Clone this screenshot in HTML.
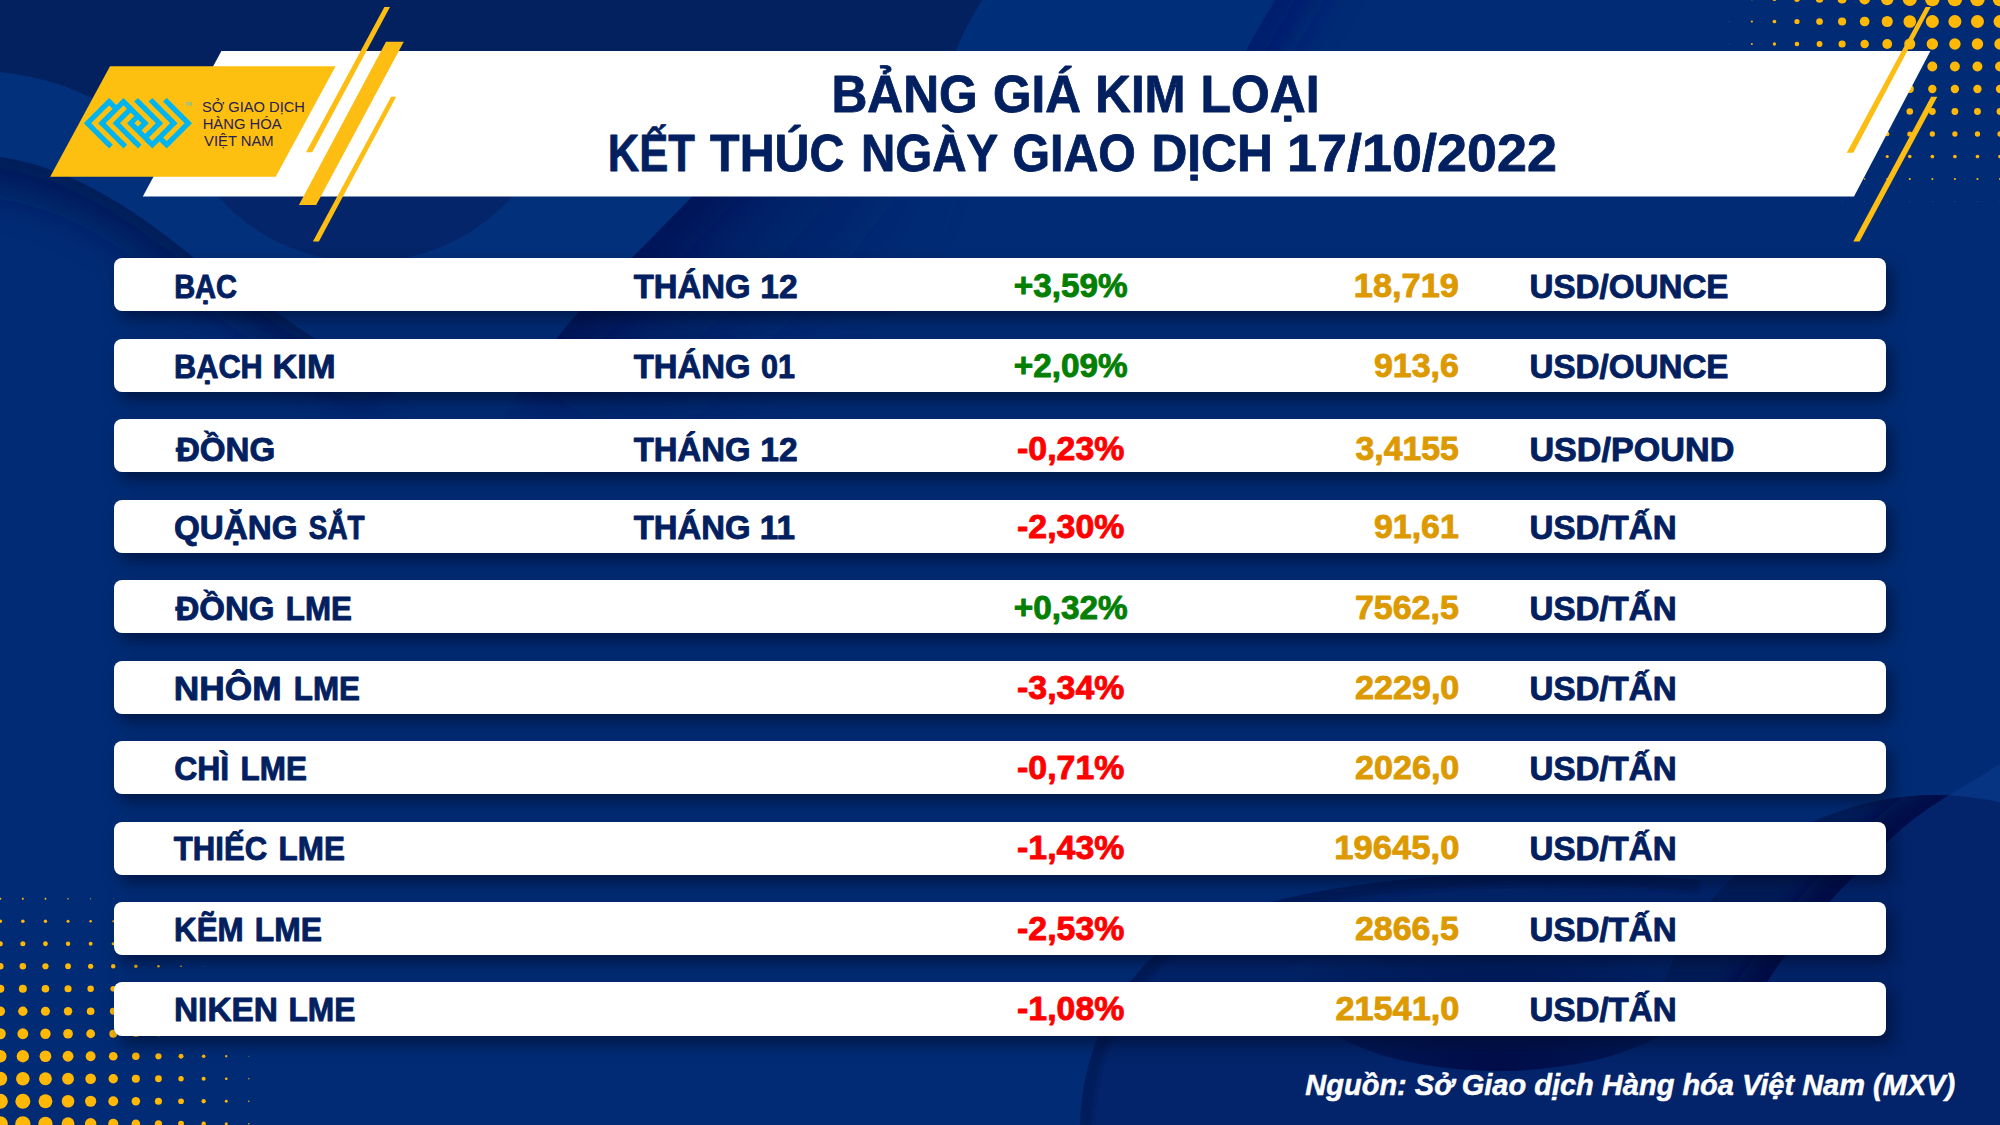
<!DOCTYPE html>
<html><head><meta charset="utf-8">
<style>
html,body{margin:0;padding:0;}
body{width:2000px;height:1125px;overflow:hidden;position:relative;background:#022b72;font-family:"Liberation Sans",sans-serif;}
svg{position:absolute;left:0;top:0;}
.row{position:absolute;left:114px;width:1772px;height:53.4px;background:#fff;border-radius:8px;box-shadow:6px 8px 16px rgba(0,10,40,0.6);}
</style></head><body>
<svg width="2000" height="1125" viewBox="0 0 2000 1125">
<defs>
<filter id="b2" filterUnits="userSpaceOnUse" x="-200" y="-200" width="2400" height="1525"><feGaussianBlur stdDeviation="2"/></filter><filter id="b16" filterUnits="userSpaceOnUse" x="-200" y="-200" width="2400" height="1525"><feGaussianBlur stdDeviation="22"/></filter><filter id="b40" filterUnits="userSpaceOnUse" x="-200" y="-200" width="2400" height="1525"><feGaussianBlur stdDeviation="45"/></filter><filter id="b8" filterUnits="userSpaceOnUse" x="-200" y="-200" width="2400" height="1525"><feGaussianBlur stdDeviation="10"/></filter>
</defs>
<rect width="2000" height="1125" fill="#012c75"/>
<!-- light band -->
<path d="M0 60 L 830 60 L 780 100 C 720 170 660 230 600 290 L 570 320 L 290 320 C 255 295 225 277 193 257 C 105 185 50 165 0 157 Z" fill="#03307b"/>
<!-- dark blob under banner -->
<circle cx="365" cy="64" r="198" fill="#04256a"/>
<!-- top dark -->
<path d="M0 0 H982 C 970 20 962 35 956 51 L 956 196 L 200 196 C150 120 80 80 0 72 Z" fill="#02215e"/>
<path d="M982 0 H1273 C 1262 20 1255 35 1246 51 L 956 51 C 962 35 970 20 982 0 Z" fill="#012e78"/>
<!-- W1 rim along B2 -->
<clipPath id="cpW1"><path d="M0 157 C 50 165 105 185 193 257 C 260 300 315 340 450 430 L 900 700 L 0 700 Z"/></clipPath>
<g clip-path="url(#cpW1)"><path d="M-40 150 C 50 160 105 180 193 252 C 260 295 315 335 380 375" fill="none" stroke="#001250" stroke-width="56" opacity="0.85" filter="url(#b16)"/></g>
<!-- W2 rim along C3 -->
<clipPath id="cpW2"><path d="M780 100 C 720 170 660 230 600 290 C 560 330 520 380 470 480 L 1200 480 L 1200 100 Z"/></clipPath>
<g clip-path="url(#cpW2)"><path d="M780 100 C 720 170 660 230 600 290 C 570 320 550 350 530 375" fill="none" stroke="#001050" stroke-width="70" opacity="0.75" filter="url(#b16)"/><path d="M800 80 C 740 150 680 210 620 270 C 590 300 570 330 550 360" fill="none" stroke="#00155a" stroke-width="260" opacity="0.45" filter="url(#b40)"/></g>
<!-- C4 rim top -->
<clipPath id="cpC4"><path d="M1320 -80 C 1290 -20 1262 20 1246 51 C 1230 80 1210 120 1190 160 L 1700 160 L 1700 -80 Z"/></clipPath>
<g clip-path="url(#cpC4)"><path d="M1320 -80 C 1290 -20 1262 20 1246 51 C 1230 80 1210 120 1190 160" fill="none" stroke="#00166a" stroke-width="60" opacity="0.8" filter="url(#b16)"/></g>
<!-- bottom right darker wave -->
<path d="M1080 1125 C 1082 1060 1105 1000 1160 950 C 1250 880 1500 860 1700 880 L 2000 880 L 2000 1125 Z" fill="#03246a"/>
<clipPath id="cpW3"><path d="M1080 1125 C 1082 1060 1105 1000 1160 950 C 1250 880 1500 860 1700 880 L 2000 880 L 2000 1125 Z"/></clipPath>
<g clip-path="url(#cpW3)"><path d="M1080 1125 C 1082 1060 1105 1000 1160 950 C 1250 880 1500 860 1700 880" fill="none" stroke="#011c5a" stroke-width="24" filter="url(#b2)"/></g>
<!-- dark crest under NIKEN row -->
<radialGradient id="rgN" cx="0.5" cy="1" r="0.75"><stop offset="0" stop-color="#000c48"/><stop offset="0.6" stop-color="#011a58"/><stop offset="1" stop-color="#03256a"/></radialGradient>
<ellipse cx="1498" cy="980" rx="205" ry="91" fill="url(#rgN)"/>
<!-- right wave W5 -->
<clipPath id="cpRM"><path d="M1500 600 L2000 600 L2000 1036 L1500 1036 Z"/></clipPath>
<g clip-path="url(#cpRM)">
<clipPath id="cpE6"><circle cx="1935" cy="1085" r="290"/></clipPath>
<clipPath id="cpW5"><path d="M2040 740 C 1950 795 1920 810 1887 843 C 1840 890 1800 930 1768 981 C 1740 1020 1720 1035 1700 1040 L 1700 1125 L 2040 1125 Z"/></clipPath>
<circle cx="1935" cy="1085" r="290" fill="#021d5a"/>
<g clip-path="url(#cpE6)"><path d="M2040 740 C 1950 795 1920 810 1887 843 C 1840 890 1800 930 1768 981 C 1740 1020 1720 1035 1700 1040" fill="none" stroke="#000e48" stroke-width="50" filter="url(#b8)"/></g>
<path d="M2040 740 C 1950 795 1920 810 1887 843 C 1840 890 1800 930 1768 981 C 1740 1020 1720 1035 1700 1040 L 1700 1125 L 2040 1125 Z" fill="#073482"/>
<g clip-path="url(#cpW5)"><circle cx="1935" cy="1085" r="290" fill="#03246a"/></g>
</g>
<g fill="#ffb806"><circle cx="0.25" cy="1123.75" r="7.60"/><circle cx="0.25" cy="1101.25" r="7.60"/><circle cx="0.25" cy="1078.75" r="7.00"/><circle cx="0.25" cy="1056.25" r="6.26"/><circle cx="0.25" cy="1033.75" r="5.52"/><circle cx="0.25" cy="1011.25" r="4.79"/><circle cx="0.25" cy="988.75" r="4.05"/><circle cx="0.25" cy="966.25" r="3.31"/><circle cx="0.25" cy="943.75" r="2.57"/><circle cx="0.25" cy="921.25" r="1.83"/><circle cx="0.25" cy="898.75" r="1.09"/><circle cx="22.85" cy="1123.75" r="7.60"/><circle cx="22.85" cy="1101.25" r="7.47"/><circle cx="22.85" cy="1078.75" r="6.85"/><circle cx="22.85" cy="1056.25" r="6.16"/><circle cx="22.85" cy="1033.75" r="5.44"/><circle cx="22.85" cy="1011.25" r="4.72"/><circle cx="22.85" cy="988.75" r="3.99"/><circle cx="22.85" cy="966.25" r="3.26"/><circle cx="22.85" cy="943.75" r="2.53"/><circle cx="22.85" cy="921.25" r="1.79"/><circle cx="22.85" cy="898.75" r="1.05"/><circle cx="45.45" cy="1123.75" r="7.11"/><circle cx="45.45" cy="1101.25" r="6.91"/><circle cx="45.45" cy="1078.75" r="6.45"/><circle cx="45.45" cy="1056.25" r="5.86"/><circle cx="45.45" cy="1033.75" r="5.21"/><circle cx="45.45" cy="1011.25" r="4.53"/><circle cx="45.45" cy="988.75" r="3.83"/><circle cx="45.45" cy="966.25" r="3.12"/><circle cx="45.45" cy="943.75" r="2.40"/><circle cx="45.45" cy="921.25" r="1.68"/><circle cx="45.45" cy="898.75" r="0.96"/><circle cx="68.05" cy="1123.75" r="6.41"/><circle cx="68.05" cy="1101.25" r="6.27"/><circle cx="68.05" cy="1078.75" r="5.92"/><circle cx="68.05" cy="1056.25" r="5.43"/><circle cx="68.05" cy="1033.75" r="4.86"/><circle cx="68.05" cy="1011.25" r="4.23"/><circle cx="68.05" cy="988.75" r="3.57"/><circle cx="68.05" cy="966.25" r="2.90"/><circle cx="68.05" cy="943.75" r="2.20"/><circle cx="68.05" cy="921.25" r="1.50"/><circle cx="68.05" cy="898.75" r="0.79"/><circle cx="90.65" cy="1123.75" r="5.71"/><circle cx="90.65" cy="1101.25" r="5.61"/><circle cx="90.65" cy="1078.75" r="5.33"/><circle cx="90.65" cy="1056.25" r="4.92"/><circle cx="90.65" cy="1033.75" r="4.41"/><circle cx="90.65" cy="1011.25" r="3.85"/><circle cx="90.65" cy="988.75" r="3.24"/><circle cx="90.65" cy="966.25" r="2.60"/><circle cx="90.65" cy="943.75" r="1.94"/><circle cx="90.65" cy="921.25" r="1.26"/><circle cx="90.65" cy="898.75" r="0.58"/><circle cx="113.25" cy="1123.75" r="5.01"/><circle cx="113.25" cy="1101.25" r="4.93"/><circle cx="113.25" cy="1078.75" r="4.70"/><circle cx="113.25" cy="1056.25" r="4.35"/><circle cx="113.25" cy="1033.75" r="3.91"/><circle cx="113.25" cy="1011.25" r="3.39"/><circle cx="113.25" cy="988.75" r="2.83"/><circle cx="113.25" cy="966.25" r="2.24"/><circle cx="113.25" cy="943.75" r="1.61"/><circle cx="113.25" cy="921.25" r="0.96"/><circle cx="113.25" cy="898.75" r="0.30"/><circle cx="135.85" cy="1123.75" r="4.31"/><circle cx="135.85" cy="1101.25" r="4.24"/><circle cx="135.85" cy="1078.75" r="4.05"/><circle cx="135.85" cy="1056.25" r="3.74"/><circle cx="135.85" cy="1033.75" r="3.35"/><circle cx="135.85" cy="1011.25" r="2.89"/><circle cx="135.85" cy="988.75" r="2.38"/><circle cx="135.85" cy="966.25" r="1.82"/><circle cx="135.85" cy="943.75" r="1.23"/><circle cx="135.85" cy="921.25" r="0.61"/><circle cx="158.45" cy="1123.75" r="3.61"/><circle cx="158.45" cy="1101.25" r="3.55"/><circle cx="158.45" cy="1078.75" r="3.38"/><circle cx="158.45" cy="1056.25" r="3.12"/><circle cx="158.45" cy="1033.75" r="2.77"/><circle cx="158.45" cy="1011.25" r="2.35"/><circle cx="158.45" cy="988.75" r="1.88"/><circle cx="158.45" cy="966.25" r="1.36"/><circle cx="158.45" cy="943.75" r="0.80"/><circle cx="158.45" cy="921.25" r="0.22"/><circle cx="181.05" cy="1123.75" r="2.91"/><circle cx="181.05" cy="1101.25" r="2.86"/><circle cx="181.05" cy="1078.75" r="2.71"/><circle cx="181.05" cy="1056.25" r="2.47"/><circle cx="181.05" cy="1033.75" r="2.16"/><circle cx="181.05" cy="1011.25" r="1.78"/><circle cx="181.05" cy="988.75" r="1.34"/><circle cx="181.05" cy="966.25" r="0.86"/><circle cx="181.05" cy="943.75" r="0.34"/><circle cx="203.65" cy="1123.75" r="2.21"/><circle cx="203.65" cy="1101.25" r="2.16"/><circle cx="203.65" cy="1078.75" r="2.03"/><circle cx="203.65" cy="1056.25" r="1.82"/><circle cx="203.65" cy="1033.75" r="1.53"/><circle cx="203.65" cy="1011.25" r="1.19"/><circle cx="203.65" cy="988.75" r="0.78"/><circle cx="203.65" cy="966.25" r="0.33"/><circle cx="226.25" cy="1123.75" r="1.51"/><circle cx="226.25" cy="1101.25" r="1.47"/><circle cx="226.25" cy="1078.75" r="1.35"/><circle cx="226.25" cy="1056.25" r="1.15"/><circle cx="226.25" cy="1033.75" r="0.90"/><circle cx="226.25" cy="1011.25" r="0.58"/><circle cx="226.25" cy="988.75" r="0.20"/><circle cx="248.85" cy="1123.75" r="0.81"/><circle cx="248.85" cy="1101.25" r="0.77"/><circle cx="248.85" cy="1078.75" r="0.66"/><circle cx="248.85" cy="1056.25" r="0.48"/><circle cx="248.85" cy="1033.75" r="0.25"/><circle cx="1729.30" cy="-1.00" r="0.42"/><circle cx="1729.30" cy="21.50" r="0.37"/><circle cx="1729.30" cy="44.00" r="0.33"/><circle cx="1729.30" cy="66.50" r="0.28"/><circle cx="1729.30" cy="89.00" r="0.24"/><circle cx="1729.30" cy="111.50" r="0.19"/><circle cx="1751.86" cy="-1.00" r="1.25"/><circle cx="1751.86" cy="21.50" r="1.11"/><circle cx="1751.86" cy="44.00" r="0.98"/><circle cx="1751.86" cy="66.50" r="0.85"/><circle cx="1751.86" cy="89.00" r="0.71"/><circle cx="1751.86" cy="111.50" r="0.58"/><circle cx="1751.86" cy="134.00" r="0.45"/><circle cx="1751.86" cy="156.50" r="0.32"/><circle cx="1751.86" cy="179.00" r="0.18"/><circle cx="1774.42" cy="-1.00" r="2.08"/><circle cx="1774.42" cy="21.50" r="1.85"/><circle cx="1774.42" cy="44.00" r="1.63"/><circle cx="1774.42" cy="66.50" r="1.41"/><circle cx="1774.42" cy="89.00" r="1.19"/><circle cx="1774.42" cy="111.50" r="0.97"/><circle cx="1774.42" cy="134.00" r="0.75"/><circle cx="1774.42" cy="156.50" r="0.53"/><circle cx="1774.42" cy="179.00" r="0.31"/><circle cx="1796.98" cy="-1.00" r="2.91"/><circle cx="1796.98" cy="21.50" r="2.60"/><circle cx="1796.98" cy="44.00" r="2.29"/><circle cx="1796.98" cy="66.50" r="1.98"/><circle cx="1796.98" cy="89.00" r="1.67"/><circle cx="1796.98" cy="111.50" r="1.36"/><circle cx="1796.98" cy="134.00" r="1.05"/><circle cx="1796.98" cy="156.50" r="0.74"/><circle cx="1796.98" cy="179.00" r="0.43"/><circle cx="1819.54" cy="-1.00" r="3.74"/><circle cx="1819.54" cy="21.50" r="3.34"/><circle cx="1819.54" cy="44.00" r="2.94"/><circle cx="1819.54" cy="66.50" r="2.54"/><circle cx="1819.54" cy="89.00" r="2.14"/><circle cx="1819.54" cy="111.50" r="1.75"/><circle cx="1819.54" cy="134.00" r="1.35"/><circle cx="1819.54" cy="156.50" r="0.95"/><circle cx="1819.54" cy="179.00" r="0.55"/><circle cx="1842.10" cy="-1.00" r="4.58"/><circle cx="1842.10" cy="21.50" r="4.08"/><circle cx="1842.10" cy="44.00" r="3.59"/><circle cx="1842.10" cy="66.50" r="3.11"/><circle cx="1842.10" cy="89.00" r="2.62"/><circle cx="1842.10" cy="111.50" r="2.13"/><circle cx="1842.10" cy="134.00" r="1.65"/><circle cx="1842.10" cy="156.50" r="1.16"/><circle cx="1842.10" cy="179.00" r="0.67"/><circle cx="1842.10" cy="201.50" r="0.19"/><circle cx="1864.66" cy="-1.00" r="5.41"/><circle cx="1864.66" cy="21.50" r="4.82"/><circle cx="1864.66" cy="44.00" r="4.25"/><circle cx="1864.66" cy="66.50" r="3.67"/><circle cx="1864.66" cy="89.00" r="3.10"/><circle cx="1864.66" cy="111.50" r="2.52"/><circle cx="1864.66" cy="134.00" r="1.95"/><circle cx="1864.66" cy="156.50" r="1.37"/><circle cx="1864.66" cy="179.00" r="0.80"/><circle cx="1864.66" cy="201.50" r="0.22"/><circle cx="1887.22" cy="-1.00" r="6.24"/><circle cx="1887.22" cy="21.50" r="5.56"/><circle cx="1887.22" cy="44.00" r="4.90"/><circle cx="1887.22" cy="66.50" r="4.24"/><circle cx="1887.22" cy="89.00" r="3.57"/><circle cx="1887.22" cy="111.50" r="2.91"/><circle cx="1887.22" cy="134.00" r="2.25"/><circle cx="1887.22" cy="156.50" r="1.58"/><circle cx="1887.22" cy="179.00" r="0.92"/><circle cx="1887.22" cy="201.50" r="0.25"/><circle cx="1909.78" cy="-1.00" r="7.07"/><circle cx="1909.78" cy="21.50" r="6.30"/><circle cx="1909.78" cy="44.00" r="5.55"/><circle cx="1909.78" cy="66.50" r="4.80"/><circle cx="1909.78" cy="89.00" r="4.05"/><circle cx="1909.78" cy="111.50" r="3.30"/><circle cx="1909.78" cy="134.00" r="2.54"/><circle cx="1909.78" cy="156.50" r="1.79"/><circle cx="1909.78" cy="179.00" r="1.04"/><circle cx="1909.78" cy="201.50" r="0.29"/><circle cx="1932.34" cy="-1.00" r="7.30"/><circle cx="1932.34" cy="21.50" r="6.51"/><circle cx="1932.34" cy="44.00" r="5.73"/><circle cx="1932.34" cy="66.50" r="4.96"/><circle cx="1932.34" cy="89.00" r="4.18"/><circle cx="1932.34" cy="111.50" r="3.40"/><circle cx="1932.34" cy="134.00" r="2.63"/><circle cx="1932.34" cy="156.50" r="1.85"/><circle cx="1932.34" cy="179.00" r="1.07"/><circle cx="1932.34" cy="201.50" r="0.30"/><circle cx="1954.90" cy="-1.00" r="7.30"/><circle cx="1954.90" cy="21.50" r="6.51"/><circle cx="1954.90" cy="44.00" r="5.73"/><circle cx="1954.90" cy="66.50" r="4.96"/><circle cx="1954.90" cy="89.00" r="4.18"/><circle cx="1954.90" cy="111.50" r="3.40"/><circle cx="1954.90" cy="134.00" r="2.63"/><circle cx="1954.90" cy="156.50" r="1.85"/><circle cx="1954.90" cy="179.00" r="1.07"/><circle cx="1954.90" cy="201.50" r="0.30"/><circle cx="1977.46" cy="-1.00" r="7.30"/><circle cx="1977.46" cy="21.50" r="6.51"/><circle cx="1977.46" cy="44.00" r="5.73"/><circle cx="1977.46" cy="66.50" r="4.96"/><circle cx="1977.46" cy="89.00" r="4.18"/><circle cx="1977.46" cy="111.50" r="3.40"/><circle cx="1977.46" cy="134.00" r="2.63"/><circle cx="1977.46" cy="156.50" r="1.85"/><circle cx="1977.46" cy="179.00" r="1.07"/><circle cx="1977.46" cy="201.50" r="0.30"/><circle cx="2000.02" cy="-1.00" r="7.30"/><circle cx="2000.02" cy="21.50" r="6.51"/><circle cx="2000.02" cy="44.00" r="5.73"/><circle cx="2000.02" cy="66.50" r="4.96"/><circle cx="2000.02" cy="89.00" r="4.18"/><circle cx="2000.02" cy="111.50" r="3.40"/><circle cx="2000.02" cy="134.00" r="2.63"/><circle cx="2000.02" cy="156.50" r="1.85"/><circle cx="2000.02" cy="179.00" r="1.07"/><circle cx="2000.02" cy="201.50" r="0.30"/></g>
</svg>
<div class="row" style="top:257.90px"></div><div class="row" style="top:338.70px"></div><div class="row" style="top:418.70px"></div><div class="row" style="top:499.60px"></div><div class="row" style="top:579.90px"></div><div class="row" style="top:660.70px"></div><div class="row" style="top:740.70px"></div><div class="row" style="top:821.70px"></div><div class="row" style="top:901.70px"></div><div class="row" style="top:982.30px"></div>
<svg width="2000" height="1125" viewBox="0 0 2000 1125" font-family="Liberation Sans">
<!-- white banner -->
<polygon points="221.4,51.1 1930.4,51.1 1854,196.4 142.8,196.4" fill="#ffffff"/>
<!-- yellow logo parallelogram -->
<polygon points="110,66.3 335.6,66.3 275.7,176.8 50.2,176.8" fill="#fdc010"/>
<!-- stripes left -->
<g fill="#fdbd12">
<polygon points="384.4,7.1 390,7.1 312.2,152.2 306,152.2"/>
<polygon points="386,41.8 403.8,41.8 316.2,204.9 298.9,204.9"/>
<polygon points="391.1,96.7 396.2,96.7 318.9,241.6 312.9,241.6"/>
<polygon points="1925.6,7.1 1930.7,7.1 1853.3,152.7 1846.7,152.7"/>
<polygon points="1931.1,96.7 1937.3,96.7 1859.6,241.6 1853.3,241.6"/>
</g>
<path fill="#00b5ef" d="M83.82 123.20L87.50 119.52L91.18 123.20L87.50 126.88ZM87.42 119.60L91.10 115.92L94.78 119.60L91.10 123.28ZM91.02 116.00L94.70 112.32L98.38 116.00L94.70 119.68ZM94.62 112.40L98.30 108.72L101.98 112.40L98.30 116.08ZM98.22 108.80L101.90 105.12L105.58 108.80L101.90 112.48ZM101.82 105.20L105.50 101.52L109.18 105.20L105.50 108.88ZM105.42 101.60L109.10 97.92L112.78 101.60L109.10 105.28ZM87.42 126.80L91.10 123.12L94.78 126.80L91.10 130.48ZM109.02 105.20L112.70 101.52L116.38 105.20L112.70 108.88ZM91.02 130.40L94.70 126.72L98.38 130.40L94.70 134.08ZM98.22 123.20L101.90 119.52L105.58 123.20L101.90 126.88ZM101.82 119.60L105.50 115.92L109.18 119.60L105.50 123.28ZM105.42 116.00L109.10 112.32L112.78 116.00L109.10 119.68ZM109.02 112.40L112.70 108.72L116.38 112.40L112.70 116.08ZM112.62 108.80L116.30 105.12L119.98 108.80L116.30 112.48ZM116.22 105.20L119.90 101.52L123.58 105.20L119.90 108.88ZM119.82 101.60L123.50 97.92L127.18 101.60L123.50 105.28ZM94.62 134.00L98.30 130.32L101.98 134.00L98.30 137.68ZM101.82 126.80L105.50 123.12L109.18 126.80L105.50 130.48ZM123.42 105.20L127.10 101.52L130.78 105.20L127.10 108.88ZM98.22 137.60L101.90 133.92L105.58 137.60L101.90 141.28ZM105.42 130.40L109.10 126.72L112.78 130.40L109.10 134.08ZM112.62 123.20L116.30 119.52L119.98 123.20L116.30 126.88ZM116.22 119.60L119.90 115.92L123.58 119.60L119.90 123.28ZM119.82 116.00L123.50 112.32L127.18 116.00L123.50 119.68ZM123.42 112.40L127.10 108.72L130.78 112.40L127.10 116.08ZM127.02 108.80L130.70 105.12L134.38 108.80L130.70 112.48ZM134.22 101.60L137.90 97.92L141.58 101.60L137.90 105.28ZM101.82 141.20L105.50 137.52L109.18 141.20L105.50 144.88ZM109.02 134.00L112.70 130.32L116.38 134.00L112.70 137.68ZM116.22 126.80L119.90 123.12L123.58 126.80L119.90 130.48ZM130.62 112.40L134.30 108.72L137.98 112.40L134.30 116.08ZM137.82 105.20L141.50 101.52L145.18 105.20L141.50 108.88ZM105.42 144.80L109.10 141.12L112.78 144.80L109.10 148.48ZM112.62 137.60L116.30 133.92L119.98 137.60L116.30 141.28ZM119.82 130.40L123.50 126.72L127.18 130.40L123.50 134.08ZM127.02 123.20L130.70 119.52L134.38 123.20L130.70 126.88ZM130.62 119.60L134.30 115.92L137.98 119.60L134.30 123.28ZM134.22 116.00L137.90 112.32L141.58 116.00L137.90 119.68ZM141.42 108.80L145.10 105.12L148.78 108.80L145.10 112.48ZM148.62 101.60L152.30 97.92L155.98 101.60L152.30 105.28ZM116.22 141.20L119.90 137.52L123.58 141.20L119.90 144.88ZM123.42 134.00L127.10 130.32L130.78 134.00L127.10 137.68ZM130.62 126.80L134.30 123.12L137.98 126.80L134.30 130.48ZM137.82 119.60L141.50 115.92L145.18 119.60L141.50 123.28ZM145.02 112.40L148.70 108.72L152.38 112.40L148.70 116.08ZM152.22 105.20L155.90 101.52L159.58 105.20L155.90 108.88ZM119.82 144.80L123.50 141.12L127.18 144.80L123.50 148.48ZM127.02 137.60L130.70 133.92L134.38 137.60L130.70 141.28ZM134.22 130.40L137.90 126.72L141.58 130.40L137.90 134.08ZM137.82 126.80L141.50 123.12L145.18 126.80L141.50 130.48ZM141.42 123.20L145.10 119.52L148.78 123.20L145.10 126.88ZM148.62 116.00L152.30 112.32L155.98 116.00L152.30 119.68ZM155.82 108.80L159.50 105.12L163.18 108.80L159.50 112.48ZM163.02 101.60L166.70 97.92L170.38 101.60L166.70 105.28ZM130.62 141.20L134.30 137.52L137.98 141.20L134.30 144.88ZM137.82 134.00L141.50 130.32L145.18 134.00L141.50 137.68ZM152.22 119.60L155.90 115.92L159.58 119.60L155.90 123.28ZM159.42 112.40L163.10 108.72L166.78 112.40L163.10 116.08ZM166.62 105.20L170.30 101.52L173.98 105.20L170.30 108.88ZM134.22 144.80L137.90 141.12L141.58 144.80L137.90 148.48ZM141.42 137.60L145.10 133.92L148.78 137.60L145.10 141.28ZM145.02 134.00L148.70 130.32L152.38 134.00L148.70 137.68ZM148.62 130.40L152.30 126.72L155.98 130.40L152.30 134.08ZM152.22 126.80L155.90 123.12L159.58 126.80L155.90 130.48ZM155.82 123.20L159.50 119.52L163.18 123.20L159.50 126.88ZM163.02 116.00L166.70 112.32L170.38 116.00L166.70 119.68ZM170.22 108.80L173.90 105.12L177.58 108.80L173.90 112.48ZM145.02 141.20L148.70 137.52L152.38 141.20L148.70 144.88ZM166.62 119.60L170.30 115.92L173.98 119.60L170.30 123.28ZM173.82 112.40L177.50 108.72L181.18 112.40L177.50 116.08ZM148.62 144.80L152.30 141.12L155.98 144.80L152.30 148.48ZM152.22 141.20L155.90 137.52L159.58 141.20L155.90 144.88ZM155.82 137.60L159.50 133.92L163.18 137.60L159.50 141.28ZM159.42 134.00L163.10 130.32L166.78 134.00L163.10 137.68ZM163.02 130.40L166.70 126.72L170.38 130.40L166.70 134.08ZM166.62 126.80L170.30 123.12L173.98 126.80L170.30 130.48ZM170.22 123.20L173.90 119.52L177.58 123.20L173.90 126.88ZM177.42 116.00L181.10 112.32L184.78 116.00L181.10 119.68ZM159.42 141.20L163.10 137.52L166.78 141.20L163.10 144.88ZM181.02 119.60L184.70 115.92L188.38 119.60L184.70 123.28ZM163.02 144.80L166.70 141.12L170.38 144.80L166.70 148.48ZM166.62 141.20L170.30 137.52L173.98 141.20L170.30 144.88ZM170.22 137.60L173.90 133.92L177.58 137.60L173.90 141.28ZM173.82 134.00L177.50 130.32L181.18 134.00L177.50 137.68ZM177.42 130.40L181.10 126.72L184.78 130.40L181.10 134.08ZM181.02 126.80L184.70 123.12L188.38 126.80L184.70 130.48ZM184.62 123.20L188.30 119.52L191.98 123.20L188.30 126.88Z"/>
<text x="185" y="105.5" font-size="4.5" fill="#6cc3b8" font-weight="bold">TM</text>
<text transform="translate(831.50 112.40) scale(0.9724 1)" font-size="51.08" font-weight="bold" stroke="#02205f" stroke-width="0.80" stroke-linejoin="round" fill="#02205f">BẢNG</text><text transform="translate(993.10 112.40) scale(0.9684 1)" font-size="51.08" font-weight="bold" stroke="#02205f" stroke-width="0.80" stroke-linejoin="round" fill="#02205f">GIÁ</text><text transform="translate(1095.32 112.40) scale(0.9648 1)" font-size="51.08" font-weight="bold" stroke="#02205f" stroke-width="0.80" stroke-linejoin="round" fill="#02205f">KIM</text><text transform="translate(1200.59 112.40) scale(0.9749 1)" font-size="51.08" font-weight="bold" stroke="#02205f" stroke-width="0.80" stroke-linejoin="round" fill="#02205f">LOẠI</text><text transform="translate(607.68 170.60) scale(0.8487 1)" font-size="51.37" font-weight="bold" stroke="#02205f" stroke-width="0.80" stroke-linejoin="round" fill="#02205f">KẾT</text><text transform="translate(710.10 170.60) scale(0.9422 1)" font-size="51.37" font-weight="bold" stroke="#02205f" stroke-width="0.80" stroke-linejoin="round" fill="#02205f">THÚC</text><text transform="translate(860.93 170.60) scale(0.9243 1)" font-size="51.37" font-weight="bold" stroke="#02205f" stroke-width="0.80" stroke-linejoin="round" fill="#02205f">NGÀY</text><text transform="translate(1012.49 170.60) scale(0.9396 1)" font-size="51.37" font-weight="bold" stroke="#02205f" stroke-width="0.80" stroke-linejoin="round" fill="#02205f">GIAO</text><text transform="translate(1151.39 170.60) scale(0.9675 1)" font-size="51.37" font-weight="bold" stroke="#02205f" stroke-width="0.80" stroke-linejoin="round" fill="#02205f">DỊCH</text><text transform="translate(1287.03 170.60) scale(1.0499 1)" font-size="51.37" font-weight="bold" stroke="#02205f" stroke-width="0.80" stroke-linejoin="round" fill="#02205f">17/10/2022</text><text transform="translate(174.13 298.25) scale(0.8745 1)" font-size="33.24" font-weight="bold" stroke="#02205f" stroke-width="0.90" stroke-linejoin="round" fill="#02205f">BẠC</text><text transform="translate(633.75 298.25) scale(0.9879 1)" font-size="33.24" font-weight="bold" stroke="#02205f" stroke-width="0.90" stroke-linejoin="round" fill="#02205f">THÁNG</text><text transform="translate(760.35 298.25) scale(1.0098 1)" font-size="33.24" font-weight="bold" stroke="#02205f" stroke-width="0.90" stroke-linejoin="round" fill="#02205f">12</text><text transform="translate(1013.66 297.35) scale(0.9912 1)" font-size="33.67" font-weight="bold" stroke="#038003" stroke-width="0.90" stroke-linejoin="round" fill="#038003">+3,59%</text><text transform="translate(1353.80 297.35) scale(1.0206 1)" font-size="33.67" font-weight="bold" stroke="#dd9a00" stroke-width="0.90" stroke-linejoin="round" fill="#dd9a00">18,719</text><text transform="translate(1529.50 298.25) scale(0.9979 1)" font-size="33.24" font-weight="bold" stroke="#02205f" stroke-width="0.90" stroke-linejoin="round" fill="#02205f">USD/OUNCE</text><text transform="translate(174.03 378.25) scale(0.9249 1)" font-size="33.24" font-weight="bold" stroke="#02205f" stroke-width="0.90" stroke-linejoin="round" fill="#02205f">BẠCH</text><text transform="translate(272.55 378.25) scale(1.0345 1)" font-size="33.24" font-weight="bold" stroke="#02205f" stroke-width="0.90" stroke-linejoin="round" fill="#02205f">KIM</text><text transform="translate(633.75 378.25) scale(0.9879 1)" font-size="33.24" font-weight="bold" stroke="#02205f" stroke-width="0.90" stroke-linejoin="round" fill="#02205f">THÁNG</text><text transform="translate(760.99 378.25) scale(0.9201 1)" font-size="33.24" font-weight="bold" stroke="#02205f" stroke-width="0.90" stroke-linejoin="round" fill="#02205f">01</text><text transform="translate(1013.66 377.35) scale(0.9912 1)" font-size="33.67" font-weight="bold" stroke="#038003" stroke-width="0.90" stroke-linejoin="round" fill="#038003">+2,09%</text><text transform="translate(1373.89 377.35) scale(1.0089 1)" font-size="33.67" font-weight="bold" stroke="#dd9a00" stroke-width="0.90" stroke-linejoin="round" fill="#dd9a00">913,6</text><text transform="translate(1529.50 378.25) scale(0.9979 1)" font-size="33.24" font-weight="bold" stroke="#02205f" stroke-width="0.90" stroke-linejoin="round" fill="#02205f">USD/OUNCE</text><text transform="translate(175.95 461.25) scale(0.9964 1)" font-size="33.24" font-weight="bold" stroke="#02205f" stroke-width="0.90" stroke-linejoin="round" fill="#02205f">ĐỒNG</text><text transform="translate(633.75 461.25) scale(0.9879 1)" font-size="33.24" font-weight="bold" stroke="#02205f" stroke-width="0.90" stroke-linejoin="round" fill="#02205f">THÁNG</text><text transform="translate(760.35 461.25) scale(1.0098 1)" font-size="33.24" font-weight="bold" stroke="#02205f" stroke-width="0.90" stroke-linejoin="round" fill="#02205f">12</text><text transform="translate(1017.09 460.35) scale(1.0052 1)" font-size="33.67" font-weight="bold" stroke="#fe0000" stroke-width="0.90" stroke-linejoin="round" fill="#fe0000">-0,23%</text><text transform="translate(1355.42 460.35) scale(1.0048 1)" font-size="33.67" font-weight="bold" stroke="#dd9a00" stroke-width="0.90" stroke-linejoin="round" fill="#dd9a00">3,4155</text><text transform="translate(1529.45 461.25) scale(1.0273 1)" font-size="33.24" font-weight="bold" stroke="#02205f" stroke-width="0.90" stroke-linejoin="round" fill="#02205f">USD/POUND</text><text transform="translate(174.01 538.55) scale(0.9999 1)" font-size="33.24" font-weight="bold" stroke="#02205f" stroke-width="0.90" stroke-linejoin="round" fill="#02205f">QUẶNG</text><text transform="translate(308.81 538.55) scale(0.8391 1)" font-size="33.24" font-weight="bold" stroke="#02205f" stroke-width="0.90" stroke-linejoin="round" fill="#02205f">SẮT</text><text transform="translate(633.75 538.55) scale(0.9879 1)" font-size="33.24" font-weight="bold" stroke="#02205f" stroke-width="0.90" stroke-linejoin="round" fill="#02205f">THÁNG</text><text transform="translate(759.87 538.55) scale(1.0021 1)" font-size="33.24" font-weight="bold" stroke="#02205f" stroke-width="0.90" stroke-linejoin="round" fill="#02205f">11</text><text transform="translate(1017.09 537.65) scale(1.0052 1)" font-size="33.67" font-weight="bold" stroke="#fe0000" stroke-width="0.90" stroke-linejoin="round" fill="#fe0000">-2,30%</text><text transform="translate(1373.89 537.65) scale(1.0089 1)" font-size="33.67" font-weight="bold" stroke="#dd9a00" stroke-width="0.90" stroke-linejoin="round" fill="#dd9a00">91,61</text><text transform="translate(1529.50 538.55) scale(0.9967 1)" font-size="33.24" font-weight="bold" stroke="#02205f" stroke-width="0.90" stroke-linejoin="round" fill="#02205f">USD/TẤN</text><text transform="translate(175.45 619.65) scale(0.9934 1)" font-size="33.24" font-weight="bold" stroke="#02205f" stroke-width="0.90" stroke-linejoin="round" fill="#02205f">ĐỒNG</text><text transform="translate(285.74 619.65) scale(0.9426 1)" font-size="33.24" font-weight="bold" stroke="#02205f" stroke-width="0.90" stroke-linejoin="round" fill="#02205f">LME</text><text transform="translate(1013.66 618.75) scale(0.9912 1)" font-size="33.67" font-weight="bold" stroke="#038003" stroke-width="0.90" stroke-linejoin="round" fill="#038003">+0,32%</text><text transform="translate(1354.89 618.75) scale(1.0100 1)" font-size="33.67" font-weight="bold" stroke="#dd9a00" stroke-width="0.90" stroke-linejoin="round" fill="#dd9a00">7562,5</text><text transform="translate(1529.50 619.65) scale(0.9967 1)" font-size="33.24" font-weight="bold" stroke="#02205f" stroke-width="0.90" stroke-linejoin="round" fill="#02205f">USD/TẤN</text><text transform="translate(173.85 699.65) scale(1.0614 1)" font-size="33.24" font-weight="bold" stroke="#02205f" stroke-width="0.90" stroke-linejoin="round" fill="#02205f">NHÔM</text><text transform="translate(293.74 699.65) scale(0.9441 1)" font-size="33.24" font-weight="bold" stroke="#02205f" stroke-width="0.90" stroke-linejoin="round" fill="#02205f">LME</text><text transform="translate(1017.09 698.75) scale(1.0052 1)" font-size="33.67" font-weight="bold" stroke="#fe0000" stroke-width="0.90" stroke-linejoin="round" fill="#fe0000">-3,34%</text><text transform="translate(1354.88 698.75) scale(1.0153 1)" font-size="33.67" font-weight="bold" stroke="#dd9a00" stroke-width="0.90" stroke-linejoin="round" fill="#dd9a00">2229,0</text><text transform="translate(1529.50 699.65) scale(0.9967 1)" font-size="33.24" font-weight="bold" stroke="#02205f" stroke-width="0.90" stroke-linejoin="round" fill="#02205f">USD/TẤN</text><text transform="translate(174.15 779.65) scale(0.9606 1)" font-size="33.24" font-weight="bold" stroke="#02205f" stroke-width="0.90" stroke-linejoin="round" fill="#02205f">CHÌ</text><text transform="translate(240.58 779.65) scale(0.9464 1)" font-size="33.24" font-weight="bold" stroke="#02205f" stroke-width="0.90" stroke-linejoin="round" fill="#02205f">LME</text><text transform="translate(1017.09 778.75) scale(1.0052 1)" font-size="33.67" font-weight="bold" stroke="#fe0000" stroke-width="0.90" stroke-linejoin="round" fill="#fe0000">-0,71%</text><text transform="translate(1354.88 778.75) scale(1.0153 1)" font-size="33.67" font-weight="bold" stroke="#dd9a00" stroke-width="0.90" stroke-linejoin="round" fill="#dd9a00">2026,0</text><text transform="translate(1529.50 779.65) scale(0.9967 1)" font-size="33.24" font-weight="bold" stroke="#02205f" stroke-width="0.90" stroke-linejoin="round" fill="#02205f">USD/TẤN</text><text transform="translate(173.85 859.65) scale(0.9356 1)" font-size="33.24" font-weight="bold" stroke="#02205f" stroke-width="0.90" stroke-linejoin="round" fill="#02205f">THIẾC</text><text transform="translate(278.59 859.65) scale(0.9449 1)" font-size="33.24" font-weight="bold" stroke="#02205f" stroke-width="0.90" stroke-linejoin="round" fill="#02205f">LME</text><text transform="translate(1017.09 858.75) scale(1.0052 1)" font-size="33.67" font-weight="bold" stroke="#fe0000" stroke-width="0.90" stroke-linejoin="round" fill="#fe0000">-1,43%</text><text transform="translate(1334.29 858.75) scale(1.0284 1)" font-size="33.67" font-weight="bold" stroke="#dd9a00" stroke-width="0.90" stroke-linejoin="round" fill="#dd9a00">19645,0</text><text transform="translate(1529.50 859.65) scale(0.9967 1)" font-size="33.24" font-weight="bold" stroke="#02205f" stroke-width="0.90" stroke-linejoin="round" fill="#02205f">USD/TẤN</text><text transform="translate(173.99 940.55) scale(0.9435 1)" font-size="33.24" font-weight="bold" stroke="#02205f" stroke-width="0.90" stroke-linejoin="round" fill="#02205f">KẼM</text><text transform="translate(254.71 940.55) scale(0.9575 1)" font-size="33.24" font-weight="bold" stroke="#02205f" stroke-width="0.90" stroke-linejoin="round" fill="#02205f">LME</text><text transform="translate(1017.09 939.65) scale(1.0052 1)" font-size="33.67" font-weight="bold" stroke="#fe0000" stroke-width="0.90" stroke-linejoin="round" fill="#fe0000">-2,53%</text><text transform="translate(1354.89 939.65) scale(1.0100 1)" font-size="33.67" font-weight="bold" stroke="#dd9a00" stroke-width="0.90" stroke-linejoin="round" fill="#dd9a00">2866,5</text><text transform="translate(1529.50 940.55) scale(0.9967 1)" font-size="33.24" font-weight="bold" stroke="#02205f" stroke-width="0.90" stroke-linejoin="round" fill="#02205f">USD/TẤN</text><text transform="translate(173.96 1021.25) scale(1.0061 1)" font-size="33.24" font-weight="bold" stroke="#02205f" stroke-width="0.90" stroke-linejoin="round" fill="#02205f">NIKEN</text><text transform="translate(288.47 1021.25) scale(0.9538 1)" font-size="33.24" font-weight="bold" stroke="#02205f" stroke-width="0.90" stroke-linejoin="round" fill="#02205f">LME</text><text transform="translate(1017.09 1020.35) scale(1.0052 1)" font-size="33.67" font-weight="bold" stroke="#fe0000" stroke-width="0.90" stroke-linejoin="round" fill="#fe0000">-1,08%</text><text transform="translate(1335.38 1020.35) scale(1.0194 1)" font-size="33.67" font-weight="bold" stroke="#dd9a00" stroke-width="0.90" stroke-linejoin="round" fill="#dd9a00">21541,0</text><text transform="translate(1529.50 1021.25) scale(0.9967 1)" font-size="33.24" font-weight="bold" stroke="#02205f" stroke-width="0.90" stroke-linejoin="round" fill="#02205f">USD/TẤN</text><text transform="translate(1305.30 1095.45) scale(0.9830 1)" font-size="29.50" font-weight="bold" font-style="italic" stroke="#ffffff" stroke-width="0.50" stroke-linejoin="round" fill="#ffffff">Nguồn: Sở Giao dịch Hàng hóa Việt Nam (MXV)</text><text transform="translate(201.94 112.00) scale(0.9720 1)" font-size="15.11" fill="#2a2050">SỞ GIAO DỊCH</text><text transform="translate(202.64 128.80) scale(0.9814 1)" font-size="15.11" fill="#2a2050">HÀNG HÓA</text><text transform="translate(204.10 146.00) scale(0.9796 1)" font-size="15.11" fill="#2a2050">VIỆT NAM</text>
</svg>
</body></html>
